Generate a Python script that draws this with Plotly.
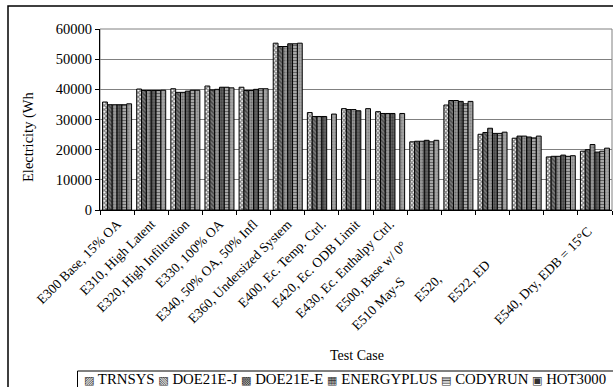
import plotly.graph_objects as go

# ---- data -------------------------------------------------------------
cases = ["E300", "E310", "E320", "E330", "E340", "E360", "E400", "E420",
         "E430", "E500", "E510", "E520", "E522", "E530", "E540"]

case_labels = ["E300 Base, 15% OA", "E310, High Latent", "E320, High Infiltration",
               "E330, 100% OA", "E340, 50% OA, 50% Infl", "E360, Undersized System",
               "E400, Ec. Temp. Ctrl.", "E420, Ec. ODB Limit", "E430, Ec. Enthalpy Ctrl.",
               "E500, Base w/ 0°", "E510 May-S", "E520, ", "E522, ED", "",
               "E540, Dry, EDB = 15°C"]

programs = ["TRNSYS", "DOE21E-J", "DOE21E-E", "ENERGYPLUS", "CODYRUN", "HOT3000"]

trnsys     = [35800, 40100, 40200, 41100, 40700, 55300, 32300, 33600, 32600, 22600, 34800, 25100, 23800, 17600, 19500]
doe21e_j   = [34900, 39600, 39000, 39800, 39600, 54200, 31000, 33300, 32000, 22800, 36300, 25700, 24500, 17800, 20000]
doe21e_e   = [34900, 39600, 39000, 40000, 39600, 54200, 31000, 33300, 32000, 22800, 36300, 27100, 24500, 17800, 21700]
energyplus = [34900, 39600, 39400, 40700, 40000, 55100, 31000, 32900, 32000, 23100, 36000, 25400, 24200, 18200, 19200]
codyrun    = [34900, 39600, 39700, 40700, 40200, 55100, None,  None,  None,  22600, 35200, 25400, 23900, 17800, 19500]
hot3000    = [35200, 39700, 39700, 40500, 40200, 55300, 31800, 33600, 32000, 23100, 36000, 25800, 24500, 18000, 20500]

series = [trnsys, doe21e_j, doe21e_e, energyplus, codyrun, hot3000]

y_ticks = [0, 10000, 20000, 30000, 40000, 50000, 60000]

# ---- styling ----------------------------------------------------------
FONT = "Liberation Serif"
W, H = 613, 387
L, R, T, B = 100, 612, 29, 210          # plot area in pixels

def px_x(p):
    return (p - L) / (R - L)

def px_y(p):
    return (B - p) / (B - T)

patterns = [
    dict(shape="x", bgcolor="#ffffff", fgcolor="#000000", size=3, solidity=0.65),
    dict(shape="\\", bgcolor="#7a7a7a", fgcolor="#111111", size=3, solidity=0.45),
    dict(shape=".", bgcolor="#9c9c9c", fgcolor="#3a3a3a", size=3, solidity=0.4),
    dict(shape=".", bgcolor="#666666", fgcolor="#222222", size=3, solidity=0.45),
    dict(shape="-", bgcolor="#b5b5b5", fgcolor="#111111", size=3, solidity=0.45),
    dict(shape=".", bgcolor="#a3a3a3", fgcolor="#6a6a6a", size=3, solidity=0.35),
]

fig = go.Figure()
for name, vals, pat in zip(programs, series, patterns):
    fig.add_trace(go.Bar(
        x=cases, y=vals, name=name,
        marker=dict(pattern=pat, color=pat["bgcolor"],
                    line=dict(color="#000000", width=1)),
        showlegend=False,
    ))

# Some case labels are partly hidden; shift their visible part down the slope
label_shift = {"E500": 9, "E510": 24, "E520": 22, "E522": 17, "E540": 3}
tick_text = [lab + "\u00a0" * label_shift.get(c, 0) for c, lab in zip(cases, case_labels)]

fig.update_layout(
    width=W, height=H,
    margin=dict(l=L, r=W - R, t=T, b=H - B, pad=0),
    paper_bgcolor="#ffffff", plot_bgcolor="#ffffff",
    barmode="group", bargap=0.15, bargroupgap=0,
    font=dict(family=FONT, size=13.5, color="#000000"),
    xaxis=dict(
        type="category", tickvals=cases, ticktext=tick_text,
        tickangle=-45, ticks="outside", tickson="boundaries", ticklen=4,
        tickcolor="#000000", showline=True, linecolor="#000000", linewidth=1,
        showgrid=False, automargin=False, tickfont=dict(size=13.5),
    ),
    yaxis=dict(
        range=[0, 60000], tickvals=y_ticks, tickformat="d",
        ticks="outside", ticklen=4, tickcolor="#000000",
        showline=True, linecolor="#000000", linewidth=1,
        showgrid=True, gridcolor="#808080", gridwidth=1,
        zeroline=False, automargin=False, tickfont=dict(size=14.5),
    ),
)

shapes = [
    # plot-area frame (top and right edges)
    dict(type="rect", xref="paper", yref="paper", x0=0, x1=1, y0=0, y1=1,
         line=dict(color="#808080", width=1), layer="below"),
    # outer chart frame
    dict(type="rect", xref="paper", yref="paper",
         x0=px_x(8), x1=px_x(640), y0=px_y(6), y1=px_y(420),
         line=dict(color="#000000", width=1.5)),
    # legend frame
    dict(type="rect", xref="paper", yref="paper",
         x0=px_x(77.5), x1=px_x(640), y0=px_y(371), y1=px_y(420),
         line=dict(color="#000000", width=1)),
]

annotations = [
    dict(text="Electricity (Wh", xref="paper", yref="paper",
         x=px_x(28), y=px_y(137), textangle=-90, showarrow=False,
         xanchor="center", yanchor="middle", font=dict(size=14.5)),
    dict(text="Test Case", xref="paper", yref="paper",
         x=px_x(357), y=px_y(355), showarrow=False,
         xanchor="center", yanchor="middle", font=dict(size=14)),
]

swatches = ["\u25a8", "\u25a7", "\u25a9", "\u25a6", "\u25a4", "\u25a3"]
legend_text = " ".join(
    f"<span style='font-family:DejaVu Sans;font-size:11px;color:#333333'>{s}</span> {p}"
    for s, p in zip(swatches, programs)
)
annotations.append(dict(text=legend_text, xref="paper", yref="paper",
                        x=px_x(82), y=px_y(379), showarrow=False,
                        xanchor="left", yanchor="middle",
                        font=dict(family=FONT, size=14.8)))

fig.update_layout(shapes=shapes, annotations=annotations)

fig.write_html("out.html")
